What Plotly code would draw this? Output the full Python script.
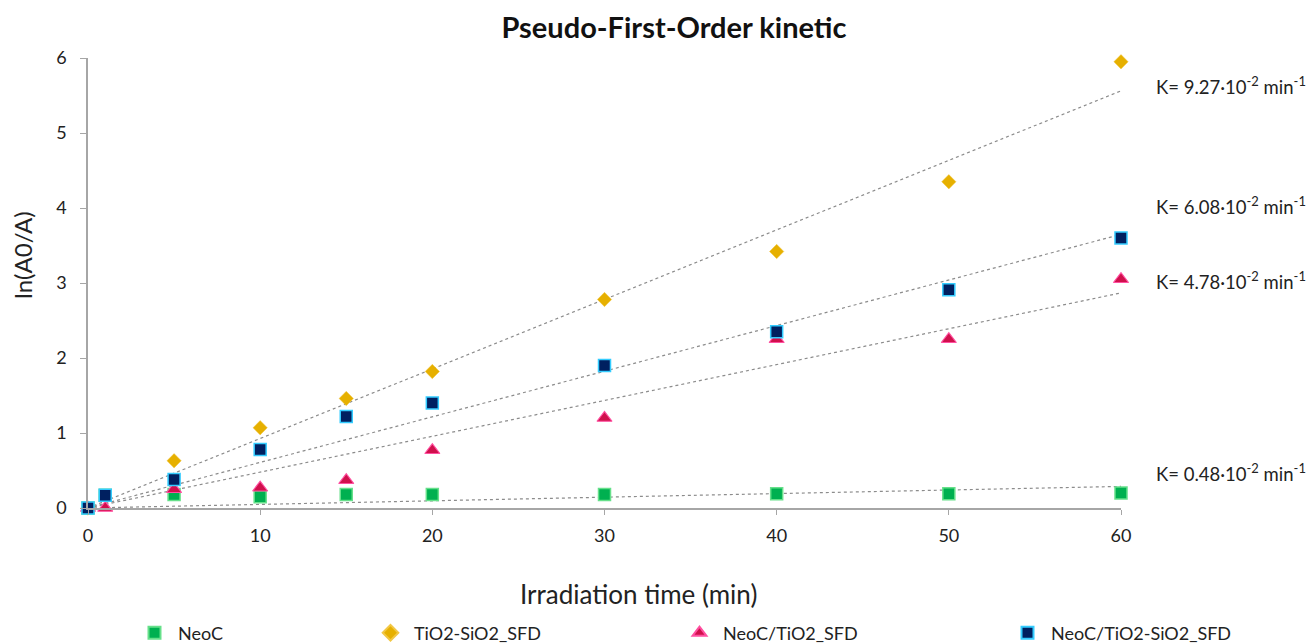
import plotly.graph_objects as go

time_min = [0, 1, 5, 10, 15, 20, 30, 40, 50, 60]

neoc = [0, 0.17, 0.18, 0.15, 0.18, 0.18, 0.18, 0.19, 0.19, 0.20]
tio2_sio2 = [0, 0.0, 0.63, 1.07, 1.46, 1.82, 2.78, 3.42, 4.35, 5.95]
neoc_tio2 = [0, 0.0, 0.25, 0.27, 0.37, 0.77, 1.20, 2.25, 2.25, 3.05]
neoc_tio2_sio2 = [0, 0.17, 0.38, 0.78, 1.22, 1.40, 1.90, 2.35, 2.91, 3.60]

series_names = ["NeoC", "TiO2-SiO2_SFD", "NeoC/TiO2_SFD", "NeoC/TiO2-SiO2_SFD"]
k_values = [0.0048, 0.0927, 0.0478, 0.0608]
k_labels = ["K= 0.48·10<sup>-2</sup> min<sup>-1</sup>",
            "K= 9.27·10<sup>-2</sup> min<sup>-1</sup>",
            "K= 4.78·10<sup>-2</sup> min<sup>-1</sup>",
            "K= 6.08·10<sup>-2</sup> min<sup>-1</sup>"]
label_y = [0.48, 5.64, 3.04, 4.04]

fit_x = [0, 60]

FONT = "Lato"
W, H = 1312, 643
PL, PR, PT, PB = 88, 1121, 58, 508


def px_x(px):
    return (px - PL) / (PR - PL)


def px_y(py):
    return (PB - py) / (PB - PT)


fig = go.Figure()

for k in k_values:
    fig.add_trace(go.Scatter(
        x=fit_x, y=[k * xx for xx in fit_x], mode="lines",
        line=dict(color="#8c8c8c", width=1.2, dash="dot"),
        showlegend=False, hoverinfo="skip"))

styles = [
    dict(symbol="square", size=12, color="#00b050", line=dict(color="#66e08a", width=1.5)),
    dict(symbol="diamond", size=11, color="#e6b000", line=dict(color="#f2c744", width=0.5)),
    dict(symbol="triangle-up", size=13, color="#d0104c", line=dict(color="#ff4fa0", width=1.2)),
    dict(symbol="square", size=12, color="#002060", line=dict(color="#33ccff", width=1.5)),
]
data = [neoc, tio2_sio2, neoc_tio2, neoc_tio2_sio2]
legend_ids = ["legend", "legend2", "legend3", "legend4"]
legend_x = [131, 367, 676, 1004]

for name, vals, st, lid in zip(series_names, data, styles, legend_ids):
    xs = time_min
    ys = vals
    if name == "TiO2-SiO2_SFD":
        xs = [t for t in time_min if t != 1]
        ys = [v for t, v in zip(time_min, vals) if t != 1]
    fig.add_trace(go.Scatter(
        x=xs, y=ys, mode="markers", name=name, marker=st,
        cliponaxis=False, legend=lid))

for txt, ly in zip(k_labels, label_y):
    fig.add_annotation(x=px_x(1154), y=ly, xref="paper", yref="y", text=txt,
                       showarrow=False, xanchor="left", yanchor="middle",
                       font=dict(family=FONT, size=18.5, color="#222222"))

fig.add_annotation(x=px_x(638), y=px_y(594), xref="paper", yref="paper",
                   text="Irradiation time (min)", showarrow=False,
                   xanchor="center", yanchor="middle",
                   font=dict(family=FONT, size=26, color="#222222"))
fig.add_annotation(x=px_x(22), y=px_y(255), xref="paper", yref="paper",
                   text="ln(A0/A)", showarrow=False, textangle=-90,
                   xanchor="center", yanchor="middle",
                   font=dict(family=FONT, size=24, color="#222222"))

legend_common = dict(orientation="h", xref="container", yref="container",
                     y=1 - 633 / H, yanchor="middle", xanchor="left",
                     font=dict(family=FONT, size=18, color="#222222"),
                     bgcolor="rgba(0,0,0,0)", itemsizing="constant", itemwidth=37)
layout_legends = {}
for lid, lx in zip(legend_ids, legend_x):
    d = dict(legend_common)
    d["x"] = lx / W
    layout_legends[lid] = d

fig.update_layout(
    width=W, height=H,
    margin=dict(l=PL, r=W - PR, t=PT, b=H - PB),
    paper_bgcolor="white", plot_bgcolor="white",
    font=dict(family=FONT, size=18, color="#222222"),
    title=dict(text="<b>Pseudo-First-Order kinetic</b>", x=674 / W, xanchor="center",
               y=1 - 28 / H, yanchor="middle", xref="container", yref="container",
               font=dict(family=FONT, size=29, color="#111111")),
    xaxis=dict(range=[0, 60], tickvals=[0, 10, 20, 30, 40, 50, 60],
               showgrid=False, zeroline=False, showline=True, linecolor="#a6a6a6",
               linewidth=1.5, ticks="outside", ticklen=5, tickcolor="#a6a6a6",
               ticklabelstandoff=6,
               tickfont=dict(family=FONT, size=18, color="#222222")),
    yaxis=dict(range=[0, 6], tickvals=[0, 1, 2, 3, 4, 5, 6],
               showgrid=False, zeroline=False, showline=True, linecolor="#a6a6a6",
               linewidth=1.5, ticks="outside", ticklen=6, tickcolor="#a6a6a6",
               ticklabelstandoff=10,
               tickfont=dict(family=FONT, size=18, color="#222222")),
    **layout_legends,
)

fig.write_html("out.html")
